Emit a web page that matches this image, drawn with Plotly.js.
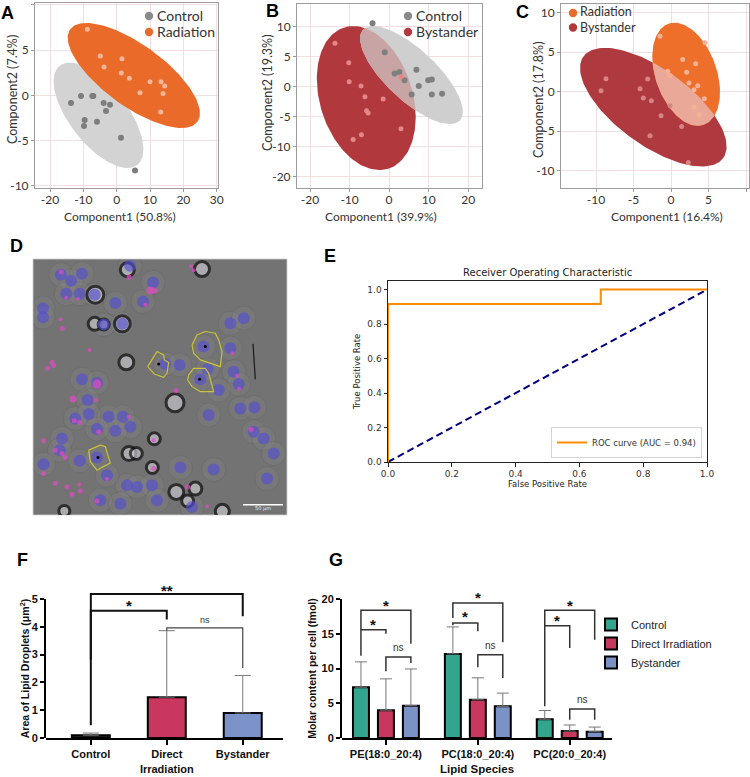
<!DOCTYPE html>
<html><head><meta charset="utf-8">
<script src="https://cdn.plot.ly/plotly-3.0.1.min.js"></script>
<style>html,body{margin:0;padding:0;background:#fff}</style>
</head><body>
<div id="chart" style="width:750px;height:777px"></div>
<script>
// ================= DATA =================
// Panel A: PCA Control vs Radiation
const aControlX = [-13.7,-10.7,-7.3,-7.0,-3.9,-2.0,-3.2,-9.6,-9.8,-5.9,1.3,5.5];
const aControlY = [-0.85,-0.07,-0.07,-0.07,-0.85,-1.03,-1.73,-2.73,-3.39,-2.92,-4.69,-8.30];
const aRadiationX = [-8.8,-4.9,-3.8,1.6,1.4,3.8,10.0,13.3,14.4,7.0,13.9,13.2];
const aRadiationY = [7.31,4.35,3.14,4.06,2.47,1.88,1.51,1.51,1.03,0.30,0.22,-1.85];
// ellipse: [centerX, centerY, axis1X, axis1Y, axis2X, axis2Y]
const aEllControl = [-5.45,-2.21,11.64,-5.49,-6.78,-1.96];
const aEllRadiation = [5.15,2.20,19.09,-5.12,-5.41,-2.75];
const aXTicks = [-20,-10,0,10,20,30];
const aYTicks = [-10,-5,0,5,10];

// Panel B: PCA Control vs Bystander
const bControlX = [-4.2,-1.1,1.4,2.6,3.9,6.9,7.5,5.7,9.9,10.8,10.8,13.4];
const bControlY = [10.56,5.72,2.22,2.44,1.06,2.83,0.11,-1.28,1.06,1.22,-1.28,-1.17];
const bBystanderX = [-13.7,-10.2,-10.1,-7.1,-6.1,-5.7,-5.3,-1.5,3.0,3.0,-7.0,-9.1];
const bBystanderY = [7.22,4.0,0.83,0.11,-1.67,-4.0,-4.39,-2.06,1.67,-7.0,-8.0,-8.78];
const bEllControl = [5.65,1.94,12.24,-7.57,-4.38,-3.07];
const bEllBystander = [-5.78,-1.89,5.56,-11.78,-11.2,-2.29];
const bXTicks = [-20,-10,0,10,20];
const bYTicks = [10,5,0,-5,-10,-15];
const bYTickText = ['10','5','0','-5','-10','-20'];

// Panel C: PCA Radiation vs Bystander
const cRadiationX = [-1.47,4.53,1.56,3.29,2.09,-0.44,-0.13,2.4,3.56,3.07,4.44,3.07,3.78];
const cRadiationY = [7.03,6.19,4.07,3.52,2.46,2.58,2.03,1.10,0.76,0.25,-0.89,-1.99,-2.92];
const cBystanderX = [-8.67,-9.33,-3.11,-4.13,-3.69,-2.62,-0.13,-1.33,1.42,-2.8,2.31];
const cBystanderY = [1.65,0.13,1.61,0.38,-0.81,-1.14,-1.78,-3.05,-4.41,-5.59,-8.98];
const cEllRadiation = [2.02,2.20,2.36,-6.40,-3.85,-1.29];
const cEllBystander = [-2.36,-1.97,9.32,-6.43,-2.94,-3.88];
const cXTicks = [-10,-5,0,5,10];
const cYTicks = [-10,-5,0,5,10];

// Panel D: micrograph features (image pixel coordinates)
const dNucleiX = [182,212,245,198,238,128,128,345,389,428,458,245,290,262,225,265,325,368,390,345,290,538,622,690,700,715,655,625,720,762,610,495,600,760,790,820,800,185,178,130,238,320,290,380,410,455,540,640,300,360,470,575,283,310,366,690,730];
const dNucleiY = [165,183,162,222,222,265,292,250,138,245,188,478,488,540,595,582,590,590,620,632,627,435,447,385,455,492,510,585,565,562,380,432,478,635,655,700,775,655,690,732,722,765,712,795,800,795,742,748,840,850,840,860,225,314,312,310,295];
const dDropX = [183,233,386,435,450,465,186,268,155,142,160,290,218,285,222,238,295,385,130,165,185,195,130,165,200,215,240,237,290,320,460,460,527,696,711,716,752,572,580,562,620,180,198];
const dDropY = [157,238,172,255,212,213,326,390,428,445,437,492,537,540,602,607,636,590,662,690,700,712,760,790,800,822,812,792,842,776,660,745,512,400,467,506,628,140,152,800,858,298,234];
const dDropSize = [5,4,5,4,8,5,5,4,5,5,5,9,7,4,5,5,5,4,5,5,5,5,5,5,5,5,5,4,5,4,4,5,5,4,4,4,5,4,4,5,4,4,4];
const dRingX = [285,283,310,366,378,605,524,462,386,408,456,528,585,562,666,192,381];
const dRingY = [225,312,314,312,427,148,548,656,700,700,742,815,805,842,873,872,150];
const dRingD = [17,13,11,16,15,15,18,12,14,12,12,15,13,12,14,11,14];
const dOut1X = [442,470,490,492,505,500,490,462,442];
const dOut1Y = [440,395,405,420,428,460,472,462,440];
const dOut2X = [575,590,615,645,655,665,660,630,600,580,575];
const dOut2Y = [375,345,335,340,360,395,440,430,420,400,375];
const dOut3X = [565,580,615,625,640,600,575,562,565];
const dOut3Y = [465,445,445,460,515,515,500,480,465];
const dOut4X = [265,300,315,330,290,270,265];
const dOut4Y = [690,675,680,728,750,725,690];
const dCoreX = [475,615,598,293];
const dCoreY = [432,380,478,712];
const dScaleX = [728,848], dScaleY = [853,853];
const dHairX = [758,765], dHairY = [372,478];

// Panel E: ROC
const rocFPR = [0,0,0.667,0.667,1];
const rocTPR = [0,0.917,0.917,1,1];
const chanceX = [0,1], chanceY = [0,1];

// Panel F: Area of lipid droplets
const fCategories = ['Control','Direct<br>Irradiation','Bystander'];
const fMeans = [0.1,1.47,0.9];
const fSD = [0.08,2.39,1.35];
// [fromIdx, toIdx, top, leftLegEnd, rightLegEnd, label, labelY]
const fBrackets = [
  [0,2,5.18,2.82,4.38,'**',5.46],
  [0,1,4.58,0.46,4.26,'*',4.92],
  [1,2,3.96,3.86,2.52,'ns',4.26]
];

// Panel G: Molar content per cell
const gSpecies = ['PE(18:0_20:4)','PC(18:0_20:4)','PC(20:0_20:4)'];
const gControl = [7.3,12.1,2.7];
const gControlSD = [3.65,3.88,1.25];
const gDirect = [4.0,5.5,1.0];
const gDirectSD = [4.51,3.16,0.87];
const gBystander = [4.65,4.55,0.9];
const gBystanderSD = [5.28,1.91,0.67];
// [group, fromBar, toBar, top, leftLegEnd, rightLegEnd, label, labelY]
const gBrackets = [
  [0,0,2,18.37,11.85,13.57,'*',19.66],
  [0,0,1,15.59,15.59,15.01,'*',16.93],
  [0,1,2,11.65,9.59,10.79,'ns',12.95],
  [1,0,2,19.42,17.27,13.77,'*',20.86],
  [1,0,1,16.55,16.21,15.35,'*',17.99],
  [1,1,2,11.99,10.17,8.63,'ns',13.29],
  [2,0,2,18.37,4.56,14.15,'*',19.66],
  [2,0,1,16.16,16.16,12.95,'*',17.41],
  [2,1,2,4.17,2.64,2.64,'ns',5.61]
];

// ================= HELPERS =================
const W = 750, H = 777;
const dx = (a,b) => [a/W, b/W];
const dy = (t,b) => [1-b/H, 1-t/H];
const px = x => x/W, py = y => 1-y/H;
const hy = v => (v<0 ? '-' + Math.abs(v) : String(v));

function ellipsePoly(p, n){
  const pts = [];
  for(let i=0;i<n;i++){
    const t = 2*Math.PI*i/n;
    pts.push([p[0]+p[2]*Math.cos(t)+p[4]*Math.sin(t), p[1]+p[3]*Math.cos(t)+p[5]*Math.sin(t)]);
  }
  return pts;
}
function area(poly){ let s=0; for(let i=0;i<poly.length;i++){const a=poly[i],b=poly[(i+1)%poly.length]; s+=a[0]*b[1]-b[0]*a[1];} return s/2; }
function clipPoly(subject, clip){
  if(area(clip)<0) clip = clip.slice().reverse();
  let out = subject;
  const cr = (a,b,p) => (b[0]-a[0])*(p[1]-a[1]) - (b[1]-a[1])*(p[0]-a[0]);
  for(let i=0;i<clip.length;i++){
    const a = clip[i], b = clip[(i+1)%clip.length];
    const inp = out; out = [];
    if(!inp.length) break;
    for(let j=0;j<inp.length;j++){
      const P = inp[j], Q = inp[(j+1)%inp.length];
      const cp = cr(a,b,P), cq = cr(a,b,Q);
      const I = () => { const t = cp/(cp-cq); return [P[0]+(Q[0]-P[0])*t, P[1]+(Q[1]-P[1])*t]; };
      if(cp>=0){ out.push(P); if(cq<0) out.push(I()); }
      else if(cq>=0){ out.push(I()); }
    }
  }
  return out;
}
const traces = [];
function polyTrace(poly, color, xa, ya){
  traces.push({type:'scatter', mode:'lines', x: poly.map(p=>p[0]).concat([poly[0][0]]), y: poly.map(p=>p[1]).concat([poly[0][1]]),
    xaxis:xa, yaxis:ya, fill:'toself', fillcolor:color, line:{width:0,color:color}, hoverinfo:'skip', showlegend:false});
}
function pointTrace(x, y, color, size, xa, ya, name){
  traces.push({type:'scatter', mode:'markers', x:x, y:y, name:name, xaxis:xa, yaxis:ya,
    marker:{size:size, color:color, line:{width:0}}, showlegend:false, hoverinfo:'x+y'});
}

// ---- Panel A ----
const NP = 160;
const aPolyC = ellipsePoly(aEllControl, NP), aPolyR = ellipsePoly(aEllRadiation, NP);
polyTrace(aPolyC, '#d3d3d3', 'x', 'y');
polyTrace(aPolyR, '#ea6a2a', 'x', 'y');
pointTrace(aControlX, aControlY, '#7d7d7d', 6, 'x', 'y', 'Control');
pointTrace(aRadiationX, aRadiationY, '#f5b597', 5, 'x', 'y', 'Radiation');

// ---- Panel B ----
const bPolyC = ellipsePoly(bEllControl, NP), bPolyB = ellipsePoly(bEllBystander, NP);
polyTrace(bPolyB, '#b1393d', 'x2', 'y2');
polyTrace(bPolyC, '#d0cfcf', 'x2', 'y2');
polyTrace(clipPoly(bPolyC, bPolyB), '#c8a4a4', 'x2', 'y2');
pointTrace(bControlX, bControlY, '#7f7f7f', 6, 'x2', 'y2', 'Control');
pointTrace(bBystanderX, bBystanderY, '#e28888', 5, 'x2', 'y2', 'Bystander');

// ---- Panel C ----
const cPolyR = ellipsePoly(cEllRadiation, NP), cPolyB = ellipsePoly(cEllBystander, NP);
polyTrace(cPolyB, '#ae393e', 'x3', 'y3');
polyTrace(cPolyR, '#ee6f2a', 'x3', 'y3');
polyTrace(clipPoly(cPolyR, cPolyB), '#eaa898', 'x3', 'y3');
pointTrace(cRadiationX, cRadiationY, '#f4b294', 5, 'x3', 'y3', 'Radiation');
pointTrace(cBystanderX, cBystanderY, '#d98484', 5, 'x3', 'y3', 'Bystander');

// ---- Panel D ----
traces.push({type:'scatter', mode:'markers', x:dNucleiX, y:dNucleiY, xaxis:'x5', yaxis:'y5', hoverinfo:'skip', showlegend:false,
  marker:{size:24, color:'rgba(140,140,140,0.22)', line:{width:0.6,color:'rgba(70,70,70,0.25)'}}});
traces.push({type:'scatter', mode:'markers', x:dRingX, y:dRingY, xaxis:'x5', yaxis:'y5', hoverinfo:'skip', showlegend:false,
  marker:{size:dRingD, color:'rgba(200,200,205,0.95)', line:{width:3,color:'#111'}}});
traces.push({type:'scatter', mode:'markers', x:dNucleiX, y:dNucleiY, xaxis:'x5', yaxis:'y5', hoverinfo:'skip', showlegend:false,
  marker:{size:12, color:'rgba(84,78,212,0.62)', line:{width:0}}});
traces.push({type:'scatter', mode:'markers', x:dDropX, y:dDropY, xaxis:'x5', yaxis:'y5', hoverinfo:'skip', showlegend:false,
  marker:{size:dDropSize, color:'#e44ac6', line:{width:0}}});
[[dOut1X,dOut1Y],[dOut2X,dOut2Y],[dOut3X,dOut3Y],[dOut4X,dOut4Y]].forEach(o=>{
  traces.push({type:'scatter', mode:'lines', x:o[0], y:o[1], xaxis:'x5', yaxis:'y5', hoverinfo:'skip', showlegend:false,
    line:{color:'#c9c23a', width:1.2}});
});
traces.push({type:'scatter', mode:'markers', x:dCoreX, y:dCoreY, xaxis:'x5', yaxis:'y5', hoverinfo:'skip', showlegend:false,
  marker:{size:3, color:'#000'}});
traces.push({type:'scatter', mode:'lines', x:dScaleX, y:dScaleY, xaxis:'x5', yaxis:'y5', hoverinfo:'skip', showlegend:false,
  line:{color:'#ffffff', width:1.5}});
traces.push({type:'scatter', mode:'lines', x:dHairX, y:dHairY, xaxis:'x5', yaxis:'y5', hoverinfo:'skip', showlegend:false,
  line:{color:'#1a1a1a', width:1.2}});

// ---- Panel E ----
traces.push({type:'scatter', mode:'lines', x:chanceX, y:chanceY, xaxis:'x4', yaxis:'y4', showlegend:false,
  line:{color:'#000080', width:2, dash:'7px,4px'}});
traces.push({type:'scatter', mode:'lines', x:rocFPR, y:rocTPR, xaxis:'x4', yaxis:'y4', name:'ROC curve (AUC = 0.94)',
  legend:'legend', showlegend:true, line:{color:'#ff8c00', width:2}});

// ---- Panel F ----
traces.push({type:'bar', x:[0,1,2], y:fMeans, xaxis:'x6', yaxis:'y6', width:0.5, showlegend:false,
  marker:{color:['#222222','#c9375f','#7b93c8'], line:{color:'#000', width:2}},
  error_y:{type:'data', symmetric:false, array:fSD, arrayminus:[0,0,0], color:'#777', thickness:1, width:8}});
traces.push({type:'scatter', x:[], y:[], xaxis:'x6', yaxis:'y7', showlegend:false, hoverinfo:'skip'});
fBrackets.forEach(b=>{
  traces.push({type:'scatter', mode:'lines', x:[b[0],b[0],b[1],b[1]], y:[b[3],b[2],b[2],b[4]], xaxis:'x6', yaxis:'y6',
    showlegend:false, hoverinfo:'skip', line:{color: b[5]==='ns' ? '#444' : '#111', width: b[5]==='ns' ? 1.2 : 2}});
});

// ---- Panel G ----
const gBarGap = 0.185, gGroupGap = 0.36;
const gSlot = (1-gBarGap)/3;
const gSeries = [
  ['Control', gControl, gControlSD, '#33a58e'],
  ['Direct Irradiation', gDirect, gDirectSD, '#c8375e'],
  ['Bystander', gBystander, gBystanderSD, '#7b92c7']
];
gSeries.forEach(s=>{
  traces.push({type:'bar', name:s[0], x:[0,1,2], y:s[1], xaxis:'x8', yaxis:'y8', legend:'legend2', showlegend:true,
    marker:{color:s[3], line:{color:'#000', width:2}},
    error_y:{type:'data', symmetric:false, array:s[2], arrayminus:[0,0,0], color:'#777', thickness:1, width:6}});
});
traces.push({type:'scatter', x:[], y:[], xaxis:'x8', yaxis:'y9', showlegend:false, hoverinfo:'skip'});
gBrackets.forEach(b=>{
  const x1 = b[0] + (b[1]-1)*gSlot, x2 = b[0] + (b[2]-1)*gSlot;
  traces.push({type:'scatter', mode:'lines', x:[x1,x1,x2,x2], y:[b[4],b[3],b[3],b[5]], xaxis:'x8', yaxis:'y8',
    showlegend:false, hoverinfo:'skip', line:{color:'#333', width:1.5}});
});

// ================= ANNOTATIONS =================
const ann = [];
const lab = (t,x,y) => ann.push({text:'<b>'+t+'</b>', x:px(x), y:py(y), xref:'paper', yref:'paper', showarrow:false,
  xanchor:'center', yanchor:'middle', font:{family:'Liberation Sans', size:18, color:'#000'}});
lab('A',7,13); lab('B',272,11); lab('C',522,12); lab('D',16,246); lab('E',330,256); lab('F',22,560); lab('G',336,560);

const pcaFont = {family:'Lato', size:12, color:'#333'};
const txt = (t,x,y,opt) => ann.push(Object.assign({text:t, x:px(x), y:py(y), xref:'paper', yref:'paper', showarrow:false,
  xanchor:'center', yanchor:'middle', font:pcaFont}, opt||{}));
txt('Component2 (7.4%)', 13, 90, {textangle:-90, font:{family:'Lato', size:12.5, color:'#333'}});
txt('Component1 (50.8%)', 120, 216);
txt('Component2 (19.3%)', 268, 93, {textangle:-90, font:{family:'Lato', size:12.5, color:'#333'}});
txt('Component1 (39.9%)', 381, 216);
txt('Component2 (17.8%)', 538, 100, {textangle:-90, font:{family:'Lato', size:12.5, color:'#333'}});
txt('Component1 (16.4%)', 667, 216);
const legFont = {family:'Lato', size:14, color:'#333'};
const legFontC = {family:'Lato', size:12.5, color:'#333'};
txt('Control', 155, 16, {xanchor:'left', font:legFont});
txt('Radiation', 155, 32, {xanchor:'left', font:legFont});
txt('Control', 414, 16, {xanchor:'left', font:legFont});
txt('Bystander', 414, 32, {xanchor:'left', font:legFont});
txt('Radiation', 579, 12, {xanchor:'left', font:legFontC, borderpad:0});
txt('Bystander', 579, 28, {xanchor:'left', font:legFontC, borderpad:0});

ann.push({text:'Receiver Operating Characteristic', x:px(547), y:py(272), xref:'paper', yref:'paper', showarrow:false,
  xanchor:'center', yanchor:'middle', font:{family:'DejaVu Sans', size:10, color:'#222'}});
ann.push({text:'50 µm', x:788, y:866, xref:'x5', yref:'y5', showarrow:false, font:{family:'DejaVu Sans', size:5, color:'#eee'}});

fBrackets.forEach(b=>{
  const isNs = b[5]==='ns';
  ann.push({text: isNs ? b[5] : '<b>'+b[5]+'</b>', x:(b[0]+b[1])/2, y:b[6], xref:'x6', yref:'y6', showarrow:false,
    xanchor:'center', yanchor:'middle', yshift: isNs ? 0 : -4,
    font:{family:'Liberation Sans', size: isNs ? 9 : 15, color: isNs ? '#333' : '#111'}});
});
gBrackets.forEach(b=>{
  const isNs = b[6]==='ns';
  const x1 = b[0] + (b[1]-1)*gSlot, x2 = b[0] + (b[2]-1)*gSlot;
  ann.push({text: isNs ? b[6] : '<b>'+b[6]+'</b>', x:(x1+x2)/2, y:b[7], xref:'x8', yref:'y8', showarrow:false,
    xanchor:'center', yanchor:'middle', yshift: isNs ? 0 : -4,
    font:{family:'Liberation Sans', size: isNs ? 10 : 15, color: isNs ? '#333' : '#111'}});
});

// ================= SHAPES =================
const shapes = [];
const dot = (x,y,c) => shapes.push({type:'circle', xref:'paper', yref:'paper', x0:px(x-4.2), x1:px(x+4.2), y0:py(y+4.2), y1:py(y-4.2),
  fillcolor:c, line:{width:0}});
dot(149,16,'#8a8a8a'); dot(149,32,'#ea6a2a');
dot(408,16,'#8a8a8a'); dot(408,32,'#b1393d');
dot(573,13,'#ea6a2a'); dot(573,27.5,'#b1393d');
shapes.push({type:'rect', xref:'x5 domain', yref:'y5 domain', x0:0, x1:1, y0:0, y1:1, fillcolor:'#737373', line:{width:0.8,color:'#cfcfcf'}, layer:'below'});

// ================= LAYOUT =================
const pcaAxis = (dom, range, ticks, text, anchor, isX) => ({domain:dom, range:range, anchor:anchor, tickvals:ticks, ticktext:text || ticks.map(hy),
  showline:true, mirror:true, linecolor:'#9c9c9c', linewidth:1, showgrid:true, gridcolor:'#f2dede', gridwidth:1, zeroline:false,
  ticks:'outside', ticklen:3, tickcolor:'#9c9c9c', ticklabelstandoff: isX ? -2 : 0,
  tickfont:{family:'Lato', size:12, color:'#333'}, fixedrange:true});
const mplAxis = (dom, range, anchor, title, standoff) => ({domain:dom, range:range, anchor:anchor, showline:true, mirror:true,
  linecolor:'#222', linewidth:1, showgrid:false, zeroline:false, ticks:'outside', ticklen:3.5, tickcolor:'#222',
  tickvals:[0,0.2,0.4,0.6,0.8,1.0], tickformat:'.1f', tickfont:{family:'DejaVu Sans', size:9, color:'#333'},
  title:{text:title, font:{family:'DejaVu Sans', size:8.5, color:'#222'}, standoff:standoff}, fixedrange:true});
const bold = {family:'Liberation Sans', size:11, color:'#111', weight:700};
const prismX = (dom, range, anchor, vals, text, title) => ({domain:dom, range:range, anchor:anchor, tickvals:vals, ticktext:text,
  showline:true, linecolor:'#000', linewidth:2, ticks:'outside', ticklen:5, tickwidth:2, tickcolor:'#000', showgrid:false, zeroline:false,
  tickfont:bold, title: title ? {text:'<b>'+title+'</b>', font:{family:'Liberation Sans', size:11.5, color:'#111'}, standoff:6} : undefined, fixedrange:true});
const prismY = (dom, range, anchor, vals, title, standoff) => ({domain:dom, range:range, anchor:anchor, tickvals:vals,
  showline:true, linecolor:'#000', linewidth:2, ticks:'outside', ticklen:4, tickwidth:2, tickcolor:'#000', showgrid:false, zeroline:false,
  tickfont:bold, title:{text:'<b>'+title+'</b>', font:{family:'Liberation Sans', size:10.5, color:'#111'}, standoff:standoff}, fixedrange:true});

const layout = {
  width:W, height:H, margin:{l:0,r:0,t:0,b:0}, paper_bgcolor:'#fff', plot_bgcolor:'rgba(0,0,0,0)', showlegend:true,
  barmode:'group', bargap:gBarGap, bargroupgap:gGroupGap, hovermode:false,
  xaxis: pcaAxis(dx(35,218), [-24.5,30.4], aXTicks, null, 'y', true),
  yaxis: pcaAxis(dy(3,188), [-10.25,10.22], aYTicks, null, 'x'),
  xaxis2: pcaAxis(dx(297,482), [-23.3,23.5], bXTicks, null, 'y2', true),
  yaxis2: pcaAxis(dy(4,188), [-16.88,13.78], bYTicks, bYTickText, 'x2'),
  xaxis3: pcaAxis(dx(561,749), [-14.67,10.4], cXTicks, null, 'y3', true),
  yaxis3: pcaAxis(dy(4,188), [-12.2,11.1], cYTicks, null, 'x3'),
  xaxis4: mplAxis(dx(388,707), [0,1], 'y4', 'False Positive Rate', 2),
  yaxis4: mplAxis(dy(281,462), [0,1.05], 'x4', 'True Positive Rate', 5),
  xaxis5: {domain:dx(33,287), range:[98,860], anchor:'y5', visible:false, fixedrange:true},
  yaxis5: {domain:dy(259,515), range:[884,118], anchor:'x5', visible:false, fixedrange:true},
  xaxis6: prismX(dx(46,283), [-0.59,2.53], 'y6', [0,1,2], fCategories, null),
  yaxis6: {domain:dy(575,738), range:[0,5.863], anchor:'x6', visible:false, fixedrange:true},
  yaxis7: prismY(dy(599,738), [0,5], 'x6', [0,1,2,3,4,5], 'Area of Lipid Droplets (μm<sup>2</sup>)', 0),
  xaxis8: prismX(dx(342,612), [-0.478,2.46], 'y8', [0,1,2], gSpecies, 'Lipid Species'),
  yaxis8: {domain:dy(580,738), range:[0,22.73], anchor:'x8', visible:false, fixedrange:true},
  yaxis9: prismY(dy(599,738), [0,20], 'x8', [0,5,10,15,20], 'Molar content per cell (fmol)', 3),
  legend: {x:px(702), xanchor:'right', y:py(458), yanchor:'bottom', bgcolor:'rgba(255,255,255,0.85)', bordercolor:'#d3d3d3', borderwidth:1,
    font:{family:'DejaVu Sans', size:8.5, color:'#333'}},
  legend2: {x:px(591), xanchor:'left', y:py(610), yanchor:'top', bgcolor:'rgba(0,0,0,0)', borderwidth:0, tracegroupgap:0,
    font:{family:'Liberation Sans', size:11, color:'#222'}},
  annotations: ann,
  shapes: shapes
};

Plotly.newPlot('chart', traces, layout, {displayModeBar:false, staticPlot:true});
</script>
</body></html>
